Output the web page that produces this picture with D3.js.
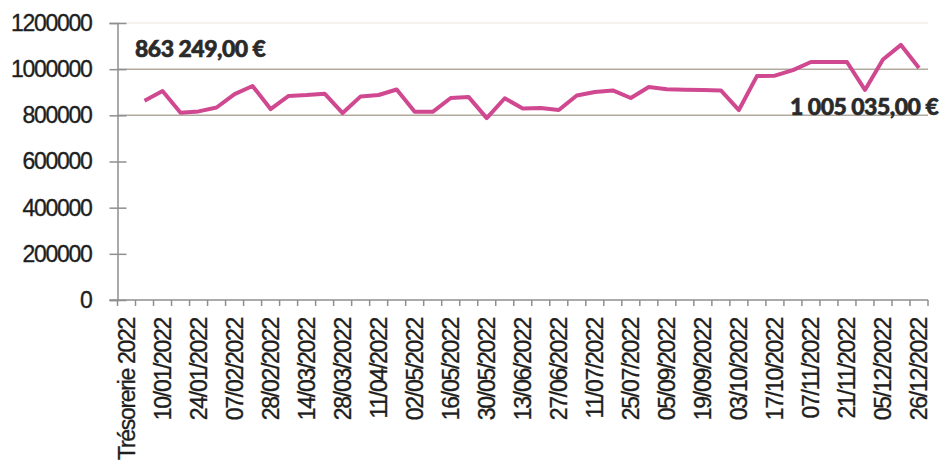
<!DOCTYPE html>
<html>
<head>
<meta charset="utf-8">
<script src="https://cdn.jsdelivr.net/npm/d3@7"></script>
<style>
  body { margin: 0; background: #fff; }
  svg { display: block; }
</style>
</head>
<body>
<div id="chart"></div>
<script>
// categories: first one is the opening treasury, then weekly dates (only every other label is shown)
const categories = [
  "Trésorerie 2022", "03/01/2022", "10/01/2022", "17/01/2022", "24/01/2022", "31/01/2022",
  "07/02/2022", "14/02/2022", "28/02/2022", "07/03/2022", "14/03/2022", "21/03/2022",
  "28/03/2022", "04/04/2022", "11/04/2022", "19/04/2022", "02/05/2022", "09/05/2022",
  "16/05/2022", "23/05/2022", "30/05/2022", "07/06/2022", "13/06/2022", "20/06/2022",
  "27/06/2022", "04/07/2022", "11/07/2022", "18/07/2022", "25/07/2022", "22/08/2022",
  "05/09/2022", "12/09/2022", "19/09/2022", "26/09/2022", "03/10/2022", "10/10/2022",
  "17/10/2022", "24/10/2022", "07/11/2022", "14/11/2022", "21/11/2022", "28/11/2022",
  "05/12/2022", "12/12/2022", "26/12/2022"
];

const values = [
  null, 863249, 905000, 811000, 817000, 834000,
  892000, 927000, 827000, 884000, 888000, 894000,
  810000, 882000, 888000, 912000, 816000, 815000,
  875000, 879000, 788000, 874000, 830000, 832000,
  823000, 886000, 901000, 908000, 875000, 923000,
  913000, 911000, 910000, 908000, 823000, 970000,
  972000, 996000, 1031000, 1031000, 1031000, 910000,
  1042000, 1105000, 1005035
];

const yTicks = [0, 200000, 400000, 600000, 800000, 1000000, 1200000];
const gridValues = [800000, 1000000];

// value labels: first and last point
const annotations = [
  {text: "863 249,00 €", index: 1},
  {text: "1 005 035,00 €", index: 44}
];

const width = 949, height = 468;
const plot = {left: 117.5, right: 928, top: 23, bottom: 300};

const svg = d3.select("#chart").append("svg")
    .attr("width", width)
    .attr("height", height);

const x = d3.scaleBand()
    .domain(categories)
    .range([plot.left, plot.right]);

const y = d3.scaleLinear()
    .domain([0, 1200000])
    .range([plot.bottom, plot.top]);

const cx = d => x(d) + x.bandwidth() / 2;

// gridlines
svg.append("g")
  .selectAll("line")
  .data(gridValues)
  .join("line")
    .attr("x1", plot.left)
    .attr("x2", plot.right)
    .attr("y1", d => y(d))
    .attr("y2", d => y(d))
    .attr("stroke", "#b3aa9f")
    .attr("stroke-width", 1.5);

svg.append("line")
    .attr("x1", plot.left).attr("x2", plot.right)
    .attr("y1", y(1200000)).attr("y2", y(1200000))
    .attr("stroke", "#ece5dd")
    .attr("stroke-width", 1);

const labelFont = sel => sel
    .attr("fill", "#1e1e1e")
    .attr("stroke", "#1e1e1e")
    .attr("stroke-width", 0.35)
    .style("font-family", "'Liberation Sans', Arial, sans-serif")
    .style("font-size", "23px")
    .style("letter-spacing", "-1.3px");

// y axis
const yAxis = svg.append("g")
    .attr("transform", `translate(${plot.left},0)`)
    .call(d3.axisLeft(y).tickValues(yTicks).tickSize(8).tickPadding(18).tickFormat(d3.format("d")));

yAxis.select(".domain").attr("stroke", "#8f8f8f").attr("stroke-width", 1.5);
yAxis.selectAll(".tick line").attr("stroke", "#8f8f8f").attr("stroke-width", 1.5);
yAxis.selectAll(".tick").append("line")
    .attr("x2", 9)
    .attr("stroke", "#8f8f8f")
    .attr("stroke-width", 1.5);
yAxis.selectAll(".tick text").call(labelFont);

// x axis: labels every other category, ticks at category boundaries
const xAxis = svg.append("g")
    .attr("transform", `translate(0,${plot.bottom})`)
    .call(d3.axisBottom(x)
      .tickValues(categories.filter((d, i) => i % 2 === 0))
      .tickSize(0)
      .tickPadding(0));

xAxis.select(".domain").remove();
xAxis.selectAll(".tick text")
    .attr("transform", "rotate(-90)")
    .attr("x", -18)
    .attr("y", 0)
    .attr("dy", "0.36em")
    .attr("text-anchor", "end")
    .call(labelFont);

svg.append("line")
    .attr("x1", plot.left - 8).attr("x2", plot.right)
    .attr("y1", plot.bottom).attr("y2", plot.bottom)
    .attr("stroke", "#8f8f8f")
    .attr("stroke-width", 1.5);

const boundaries = categories.map(d => x(d)).concat([x(categories[categories.length - 1]) + x.bandwidth()]);
svg.append("g")
  .selectAll("line")
  .data(boundaries)
  .join("line")
    .attr("x1", d => d).attr("x2", d => d)
    .attr("y1", plot.bottom).attr("y2", plot.bottom + 6)
    .attr("stroke", "#8f8f8f")
    .attr("stroke-width", 1.5);

// the line
const line = d3.line()
    .defined(d => d.v !== null)
    .x(d => cx(d.c))
    .y(d => y(d.v));

svg.append("path")
    .datum(categories.map((c, i) => ({c: c, v: values[i]})))
    .attr("d", line)
    .attr("fill", "none")
    .attr("stroke", "#cf4890")
    .attr("stroke-width", 4)
    .attr("stroke-linejoin", "round");

// value labels
const valueFont = sel => sel
    .attr("fill", "#2a2a2a")
    .attr("stroke", "#2a2a2a")
    .attr("stroke-width", 0.6)
    .style("font-family", "Lato, sans-serif")
    .style("font-weight", "900")
    .style("font-size", "23px")
    .style("letter-spacing", "-0.5px");

svg.append("text")
    .attr("x", 135)
    .attr("y", 57)
    .call(valueFont)
    .text(annotations[0].text);

svg.append("text")
    .attr("x", 790)
    .attr("y", 115)
    .call(valueFont)
    .text(annotations[1].text);
</script>
</body>
</html>
